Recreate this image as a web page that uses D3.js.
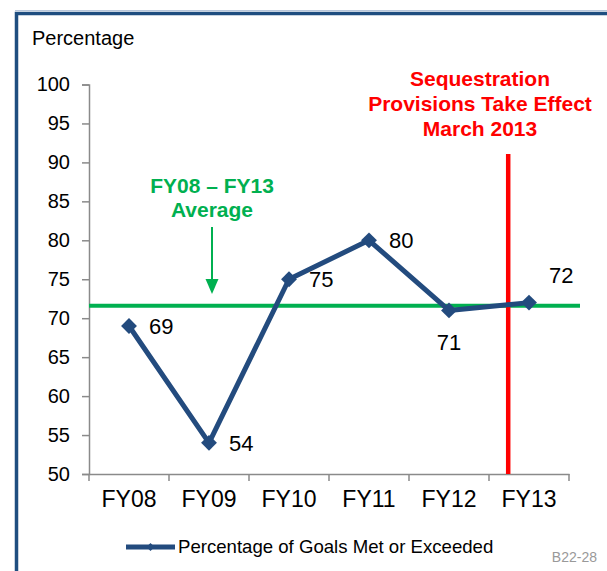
<!DOCTYPE html>
<html><head><meta charset="utf-8">
<script src="https://cdn.jsdelivr.net/npm/d3@7"></script>
<style>
html,body{margin:0;padding:0;background:#fff;}
svg{display:block;font-family:"Liberation Sans",Arial,sans-serif;}
</style></head>
<body>
<svg id="chart" width="607" height="571"></svg>
<script>
// ---- data ----
const categories = ["FY08","FY09","FY10","FY11","FY12","FY13"];
const values = [69, 54, 75, 80, 71, 72];
const labelPlacement = ["right","right","right","right","below","aboveRight"];
const yTicks = [50,55,60,65,70,75,80,85,90,95,100];
const averageValue = 71.6;
const averageLabel = ["FY08 \u2013 FY13","Average"];
const sequestrationLabel = ["Sequestration","Provisions Take Effect","March 2013"];
const sequestrationCategory = "FY13";
const sequestrationBandFraction = 0.24;
const seriesName = "Percentage of Goals Met or Exceeded";
const yTitle = "Percentage";
const slideId = "B22-28";

// ---- drawing ----
const svg = d3.select("#chart");
const blue = "#234B7E", green = "#00B050", red = "#FF0000", axisGray = "#8A8A8A";

// frame
svg.append("line").attr("x1",15).attr("x2",607).attr("y1",10.5).attr("y2",10.5)
  .attr("stroke","#B7C6DA").attr("stroke-width",1);
svg.append("path").attr("d","M16.5,600 V13.5 H620")
  .attr("fill","none").attr("stroke","#1F4E80").attr("stroke-width",3.5);

const x = d3.scaleBand().domain(categories).range([89,569]).padding(0);
const y = d3.scaleLinear().domain([50,100]).range([474,84.5]);

// y axis
const gy = svg.append("g").attr("transform","translate(89,0)")
  .call(d3.axisLeft(y).tickValues(yTicks).tickSize(7).tickPadding(12));
gy.select(".domain").attr("stroke",axisGray).attr("stroke-width",1.5);
gy.selectAll(".tick line").attr("stroke",axisGray).attr("stroke-width",1.5);
gy.selectAll(".tick text").attr("font-size",20).attr("fill","#000")
  .attr("font-family","'Liberation Sans',Arial,sans-serif");

// x axis
const gx = svg.append("g").attr("transform","translate(0,474)")
  .call(d3.axisBottom(x).tickSize(0).tickPadding(17));
gx.select(".domain").attr("stroke",axisGray).attr("stroke-width",1.5);
gx.selectAll(".tick text").attr("font-size",23).attr("fill","#000")
  .attr("font-family","'Liberation Sans',Arial,sans-serif");
const bounds = categories.map(c => x(c)).concat([x(categories[categories.length-1]) + x.bandwidth()]);
gx.selectAll(".bound").data(bounds).enter().append("line")
  .attr("x1",d=>d).attr("x2",d=>d).attr("y1",0).attr("y2",7)
  .attr("stroke",axisGray).attr("stroke-width",1.5);

// title
svg.append("text").attr("x",32).attr("y",45).attr("font-size",20).attr("fill","#000").text(yTitle);

// average line
const yAvg = y(averageValue);
svg.append("line").attr("x1",89).attr("x2",580).attr("y1",yAvg).attr("y2",yAvg)
  .attr("stroke",green).attr("stroke-width",4);
const avgX = 212;
svg.append("g").selectAll("text").data(averageLabel).enter().append("text")
  .attr("x",avgX).attr("y",(d,i)=>193+i*24).attr("text-anchor","middle")
  .attr("font-size",21).attr("font-weight","bold").attr("fill",green).text(d=>d);
svg.append("line").attr("x1",avgX).attr("x2",avgX).attr("y1",227).attr("y2",281)
  .attr("stroke",green).attr("stroke-width",2);
svg.append("path").attr("d",`M${avgX-6.5},279 L${avgX+6.5},279 L${avgX},294 Z`).attr("fill",green);

// sequestration line
const seqX = x(sequestrationCategory) + sequestrationBandFraction * x.bandwidth();
svg.append("line").attr("x1",seqX).attr("x2",seqX).attr("y1",154).attr("y2",474)
  .attr("stroke",red).attr("stroke-width",4.5);
svg.append("g").selectAll("text").data(sequestrationLabel).enter().append("text")
  .attr("x",480).attr("y",(d,i)=>86+i*25).attr("text-anchor","middle")
  .attr("font-size",21).attr("font-weight","bold").attr("fill",red).text(d=>d);

// series
const pts = categories.map((c,i)=>({c, v: values[i], px: x(c)+x.bandwidth()/2, py: y(values[i]), pos: labelPlacement[i]}));
svg.append("path").datum(pts)
  .attr("d", d3.line().x(d=>d.px).y(d=>d.py))
  .attr("fill","none").attr("stroke",blue).attr("stroke-width",5).attr("stroke-linejoin","round");
const diamond = d3.symbol().type(d3.symbolDiamond2).size(160);
svg.append("g").selectAll("path").data(pts).enter().append("path")
  .attr("d",diamond).attr("transform",d=>`translate(${d.px},${d.py})`).attr("fill",blue);

svg.append("g").selectAll("text").data(pts).enter().append("text")
  .attr("font-size",22).attr("fill","#000")
  .attr("x",d=> d.pos==="below" ? d.px : d.px+20)
  .attr("y",d=> d.pos==="below" ? d.py+40 : d.pos==="aboveRight" ? d.py-20 : d.py+8)
  .attr("text-anchor",d=> d.pos==="below" ? "middle" : "start")
  .text(d=>d.v);

// legend
const lg = svg.append("g");
lg.append("line").attr("x1",126).attr("x2",175).attr("y1",547).attr("y2",547)
  .attr("stroke",blue).attr("stroke-width",5);
lg.append("path").attr("d",d3.symbol().type(d3.symbolDiamond2).size(40)).attr("transform","translate(150.5,547)").attr("fill",blue);
lg.append("text").attr("x",178).attr("y",553).attr("font-size",18.6).attr("fill","#000").text(seriesName);

svg.append("text").attr("x",597).attr("y",562).attr("text-anchor","end")
  .attr("font-size",14).attr("fill","#999").text(slideId);
</script>
</body></html>
